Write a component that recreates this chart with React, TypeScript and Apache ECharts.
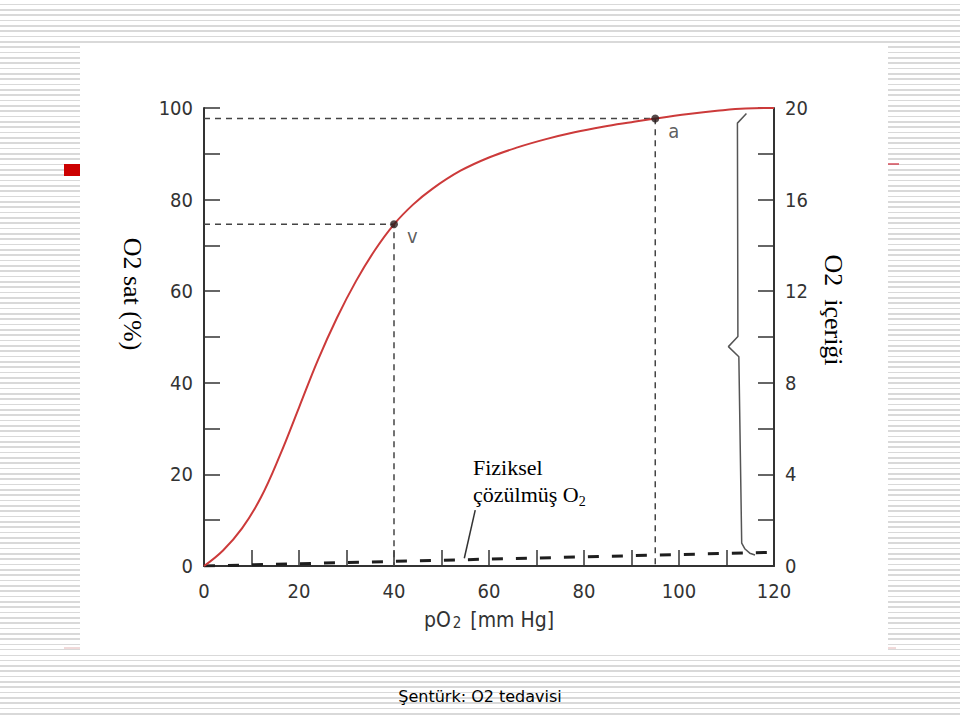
import React, { useEffect, useRef } from "react";
import * as echarts from "echarts";

// ---- data ----
const po2 = [0, 4, 8, 12, 16, 20, 24, 28, 32, 36, 40, 44, 48, 54, 60, 66, 72, 78, 84, 90, 95, 102, 108, 114, 120];
const satPct = [0, 3.4, 8.2, 15.0, 24.2, 34.6, 45.0, 54.2, 62.2, 69.0, 74.6, 78.9, 82.3, 86.3, 89.2, 91.4, 93.2, 94.7, 95.9, 96.9, 97.7, 98.7, 99.4, 99.9, 100];

const pointNames = ["v", "a"];
const pointPo2 = [40, 95];
const pointSat = [74.6, 97.7];

const dissolvedPo2 = [0, 120];
const dissolvedSat = [0, 3];

const leaderPo2 = [54.8, 57.1];
const leaderSat = [1.7, 12.2];

const bracePo2 = [114.2, 112.3, 112.4, 110.4, 112.6, 113.2, 113.9, 114.9, 116];
const braceSat = [98.8, 96.7, 50.1, 47.9, 45.7, 5.0, 3.7, 2.8, 2.4];

const po2Axis = { min: 0, max: 120, step: 20 };
const satAxis = { min: 0, max: 100, step: 20 };
const contentAxis = { min: 0, max: 20, step: 4 };

const texts = {
  xName: "pO{sub|2} [mm Hg]",
  leftName: "O2 sat (%)",
  rightName: "O2  içeriği",
  noteLine1: "Fiziksel",
  noteLine2: "çözülmüş O",
  title: "Şentürk: O2 tedavisi",
};

const SANS = "'Liberation Sans Narrow', 'DejaVu Sans Condensed', 'Roboto Condensed', Roboto, sans-serif";
const SERIF = "'Liberation Serif', 'Times New Roman', serif";
const AXIS_COLOR = "#333";

const zip = (xs: number[], ys: number[]) => xs.map((x, i) => [x, ys[i]]);

export default function App() {
  const ref = useRef<HTMLDivElement>(null);

  useEffect(() => {
    if (!ref.current) return;
    const chart = echarts.init(ref.current, undefined, { renderer: "svg" });

    const dashed = { color: "#444", width: 1.5, type: [6, 5] as number[] };

    const axisCommon = {
      axisLine: { show: true, lineStyle: { color: AXIS_COLOR, width: 2 } },
      axisTick: { show: true, inside: true, length: 16, lineStyle: { color: AXIS_COLOR, width: 1.5 } },
      minorTick: { show: true, splitNumber: 2, length: 16, lineStyle: { color: AXIS_COLOR, width: 1.5 } },
      splitLine: { show: false },
      minorSplitLine: { show: false },
    };

    const labelStyle = { fontSize: 20, color: AXIS_COLOR, fontFamily: SANS };

    chart.setOption({
      animation: false,
      grid: { left: 204, right: 186, top: 108, bottom: 151 },
      xAxis: {
        type: "value",
        min: po2Axis.min,
        max: po2Axis.max,
        interval: po2Axis.step,
        ...axisCommon,
        axisLabel: { margin: 15, ...labelStyle },
        name: texts.xName,
        nameLocation: "middle",
        nameGap: 43,
        nameTextStyle: {
          fontSize: 21,
          color: AXIS_COLOR,
          fontFamily: SANS,
          rich: {
            sub: { fontSize: 15, color: AXIS_COLOR, fontFamily: SANS, verticalAlign: "bottom", lineHeight: 15, padding: [0, 3, 0, 2] },
          },
        },
      },
      yAxis: [
        {
          type: "value",
          min: satAxis.min,
          max: satAxis.max,
          interval: satAxis.step,
          position: "left",
          ...axisCommon,
          axisLabel: { margin: 11, ...labelStyle },
        },
        {
          type: "value",
          min: contentAxis.min,
          max: contentAxis.max,
          interval: contentAxis.step,
          position: "right",
          ...axisCommon,
          axisLabel: { margin: 11, ...labelStyle },
        },
      ],
      graphic: [
        { type: "rect", z: -10, shape: { x: 80, y: 44, width: 808, height: 606 }, style: { fill: "#fff" } },
        { type: "rect", z: -10, shape: { x: 0, y: 650, width: 960, height: 5 }, style: { fill: "#fff" } },
        { type: "rect", z: -5, shape: { x: 64, y: 164, width: 16, height: 12 }, style: { fill: "#cc0000" } },
        { type: "line", z: -5, shape: { x1: 888, y1: 164, x2: 899, y2: 164 }, style: { stroke: "#cc2233", lineWidth: 1.2 } },
        { type: "line", z: -5, shape: { x1: 64, y1: 648, x2: 80, y2: 648 }, style: { stroke: "#e2b4b4", lineWidth: 1 } },
        { type: "line", z: -5, shape: { x1: 888, y1: 648, x2: 896, y2: 648 }, style: { stroke: "#e2b4b4", lineWidth: 1 } },
        {
          type: "text",
          z: 50,
          x: 132,
          y: 294,
          rotation: -Math.PI / 2,
          style: { text: texts.leftName, font: `26px ${SERIF}`, fill: "#000", align: "center", verticalAlign: "middle" },
        },
        {
          type: "text",
          z: 50,
          x: 833,
          y: 310,
          rotation: -Math.PI / 2,
          style: { text: texts.rightName, font: `26px ${SERIF}`, fill: "#000", align: "center", verticalAlign: "middle" },
        },
        {
          type: "text",
          z: 50,
          x: 473,
          y: 454,
          style: {
            text: `${texts.noteLine1}\n{n|${texts.noteLine2}}{sub|2}`,
            fontFamily: SERIF,
            fontSize: 22,
            lineHeight: 27,
            fill: "#000",
            align: "left",
            verticalAlign: "top",
            rich: {
              n: { fontFamily: SERIF, fontSize: 22, lineHeight: 27, fill: "#000" },
              sub: { fontFamily: SERIF, fontSize: 14, lineHeight: 14, verticalAlign: "bottom", fill: "#000" },
            },
          },
        },
        {
          type: "text",
          z: 50,
          x: 480,
          y: 696,
          style: { text: texts.title, font: "16px 'DejaVu Sans', Verdana, sans-serif", fill: "#000", align: "center", verticalAlign: "middle" },
        },
      ],
      series: [
        {
          name: "dissolved",
          type: "line",
          data: zip(dissolvedPo2, dissolvedSat),
          symbol: "none",
          lineStyle: { color: "#1e1e1e", width: 3, type: [11, 13] },
          z: 3,
        },
        {
          name: "leader",
          type: "line",
          data: zip(leaderPo2, leaderSat),
          symbol: "none",
          lineStyle: { color: "#333", width: 1.5 },
          z: 3,
        },
        {
          name: "venousRef",
          type: "line",
          data: [
            [0, pointSat[0]],
            [pointPo2[0], pointSat[0]],
            [pointPo2[0], 0],
          ],
          symbol: "none",
          lineStyle: dashed,
          z: 2,
        },
        {
          name: "arterialRef",
          type: "line",
          data: [
            [0, pointSat[1]],
            [pointPo2[1], pointSat[1]],
            [pointPo2[1], 0],
          ],
          symbol: "none",
          lineStyle: dashed,
          z: 2,
        },
        {
          name: "brace",
          type: "line",
          data: zip(bracePo2, braceSat),
          symbol: "none",
          lineStyle: { color: "#555", width: 1.5 },
          z: 3,
        },
        {
          name: "curve",
          type: "line",
          data: zip(po2, satPct),
          smooth: 0.4,
          symbol: "none",
          clip: false,
          lineStyle: { color: "#cc3a3a", width: 2 },
          z: 4,
        },
        {
          name: "points",
          type: "scatter",
          data: pointPo2.map((x, i) => ({ value: [x, pointSat[i]], name: pointNames[i] })),
          symbolSize: 8,
          itemStyle: { color: "#2b1d1d" },
          label: {
            show: true,
            formatter: "{b}",
            position: "right",
            distance: 5,
            offset: [4, 12],
            fontSize: 20,
            color: AXIS_COLOR,
            fontFamily: SANS,
          },
          z: 5,
        },
      ],
    });

    return () => chart.dispose();
  }, []);

  return (
    <div
      style={{
        position: "absolute",
        left: 0,
        top: 0,
        width: 960,
        height: 717,
        background: "repeating-linear-gradient(to bottom, #ffffff 0px, #ffffff 3.6px, #d9d9d9 3.6px, #d9d9d9 5.333px)",
      }}
    >
      <div ref={ref} style={{ width: 960, height: 717 }} />
    </div>
  );
}
